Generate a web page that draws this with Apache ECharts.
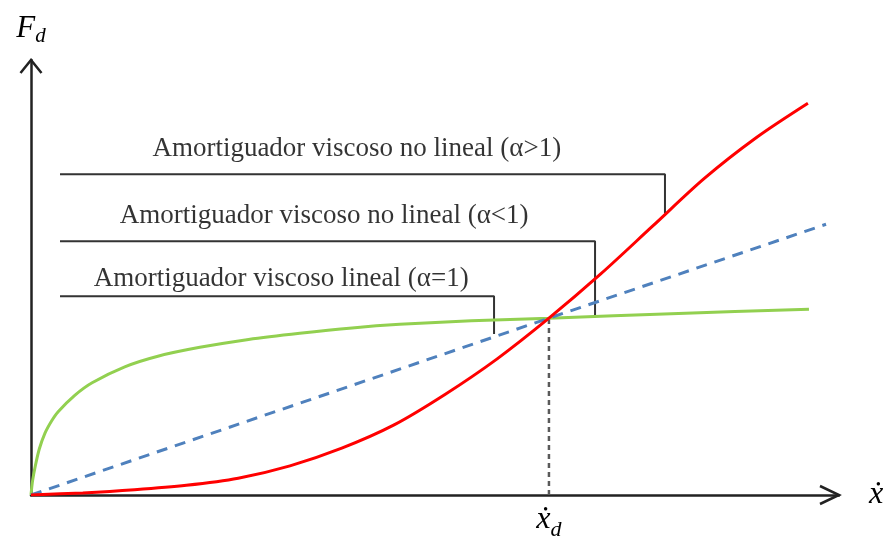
<!DOCTYPE html>
<html><head><meta charset="utf-8">
<script src="https://cdn.jsdelivr.net/npm/echarts@6/dist/echarts.min.js"></script>
<style>html,body{margin:0;padding:0;background:#fff}#c{width:889px;height:538px}</style>
</head><body><div id="c"></div>
<script>
// Curves (normalized: x / x_d , F / F_d)
const greenX = [0, 0.003, 0.008, 0.016, 0.027, 0.040, 0.052, 0.085, 0.118, 0.181, 0.245, 0.326, 0.420, 0.519, 0.620, 0.712, 0.850, 1.0, 1.250, 1.502];
const greenY = [0, 0.080, 0.160, 0.260, 0.350, 0.420, 0.470, 0.565, 0.635, 0.725, 0.785, 0.835, 0.880, 0.915, 0.945, 0.965, 0.985, 1.0, 1.027, 1.051];
const blueX = [0, 1.0, 1.535];
const blueY = [0, 1.0, 1.531];
const redX = [0, 0.1, 0.2, 0.3, 0.4, 0.5, 0.6, 0.7, 0.8, 0.9, 1.0, 1.1, 1.2, 1.3, 1.4, 1.5];
const redY = [0, 0.012, 0.030, 0.055, 0.095, 0.165, 0.265, 0.395, 0.570, 0.770, 1.0, 1.250, 1.520, 1.790, 2.020, 2.215];
const xd = 1.0, Fd = 1.0;
// Annotations
const annTexts = ['Amortiguador viscoso no lineal (\u03b1>1)', 'Amortiguador viscoso no lineal (\u03b1<1)', 'Amortiguador viscoso lineal (\u03b1=1)'];
const annStartX = [0.056, 0.056, 0.056];
const annLevelY = [1.814, 1.435, 1.124];
const annEndX = [1.224, 1.089, 0.894];
const annEndY = [1.593, 1.017, 0.910];
const annTextX = [0.629, 0.566, 0.483];
const annTextY = [1.955, 1.578, 1.222];

const X_MAX = 1.56, Y_MAX = 2.46;
const zip = (a, b) => a.map((v, i) => [v, b[i]]);
const serif = 'Liberation Serif, Times New Roman, serif';
const txtCol = '#000';

const chart = echarts.init(document.getElementById('c'), null, {renderer: 'canvas'});
const series = [
  {type: 'line', data: zip(greenX, greenY), smooth: 0.3, showSymbol: false,
   lineStyle: {color: '#92D050', width: 3}, z: 3},
  {type: 'line', data: zip(blueX, blueY), showSymbol: false,
   lineStyle: {color: '#4F81BD', width: 3, type: [11, 8]}, z: 4},
  {type: 'line', data: zip(redX, redY), smooth: 0.3, showSymbol: false,
   lineStyle: {color: '#FF0000', width: 3}, z: 5},
  {type: 'line', data: [[xd, 0], [xd, Fd]], showSymbol: false,
   lineStyle: {color: '#5a5a5a', width: 2.5, type: [5, 4]}, z: 2}
];
annTexts.forEach((t, i) => {
  series.push({type: 'line', data: [[annStartX[i], annLevelY[i]], [annEndX[i], annLevelY[i]], [annEndX[i], annEndY[i]]],
    showSymbol: false, lineStyle: {color: '#333', width: 2}, z: 2});
});
series.push({type: 'scatter', symbolSize: 0, z: 6,
  data: annTexts.map((t, i) => ({name: t, value: [annTextX[i], annTextY[i]]})),
  label: {show: true, position: 'inside', formatter: p => p.name, fontFamily: serif, fontSize: 27, color: txtCol}});

chart.setOption({
  animation: false,
  backgroundColor: '#fff',
  grid: {left: 31, right: 50, top: 60, bottom: 43, containLabel: false, outerBoundsMode: 'none'},
  xAxis: {type: 'value', min: 0, max: X_MAX, interval: 1,
    axisLine: {show: true, onZero: false, lineStyle: {color: '#222', width: 2.5}},
    axisTick: {show: false}, splitLine: {show: false},
    axisLabel: {show: true, margin: 9, showMaxLabel: false,
      formatter: v => v === xd ? '{i|\u1e8b}{s|d}' : '',
      rich: {i: {fontFamily: serif, fontStyle: 'italic', fontSize: 32, lineHeight: 32, verticalAlign: 'top', color: txtCol},
             s: {fontFamily: serif, fontStyle: 'italic', fontSize: 22, lineHeight: 22, verticalAlign: 'top', padding: [15, 0, 0, 0], color: txtCol}}},
    name: '{i|\u1e8b}', nameLocation: 'end', nameGap: 30,
    nameTextStyle: {rich: {i: {fontFamily: serif, fontStyle: 'italic', fontSize: 32, color: txtCol}}}
  },
  yAxis: {type: 'value', min: 0, max: Y_MAX,
    axisLine: {show: true, onZero: false, lineStyle: {color: '#222', width: 2.5}},
    axisTick: {show: false}, splitLine: {show: false}, axisLabel: {show: false},
    name: '{i|F}{s|d}', nameLocation: 'end', nameGap: 16,
    nameTextStyle: {align: 'center', verticalAlign: 'bottom', padding: [0, 0, 0, 0],
      rich: {i: {fontFamily: serif, fontStyle: 'italic', fontSize: 31, lineHeight: 31, verticalAlign: 'top', color: txtCol},
             s: {fontFamily: serif, fontStyle: 'italic', fontSize: 21, lineHeight: 21, verticalAlign: 'top', padding: [13, 0, 0, 0], color: txtCol}}}
  },
  series: series
});

// open chevron arrow heads at axis ends
const xe = chart.convertToPixel({gridIndex: 0}, [X_MAX, 0]);
const ye = chart.convertToPixel({gridIndex: 0}, [0, Y_MAX]);
chart.setOption({graphic: [
  {type: 'polyline', shape: {points: [[xe[0] - 19, xe[1] - 9], [xe[0], xe[1]], [xe[0] - 19, xe[1] + 9]]},
   style: {stroke: '#222', lineWidth: 2.5, fill: null}, z: 10},
  {type: 'polyline', shape: {points: [[ye[0] - 10.5, ye[1] + 13], [ye[0], ye[1]], [ye[0] + 10.5, ye[1] + 13]]},
   style: {stroke: '#222', lineWidth: 2.5, fill: null}, z: 10}
]});
</script></body></html>
